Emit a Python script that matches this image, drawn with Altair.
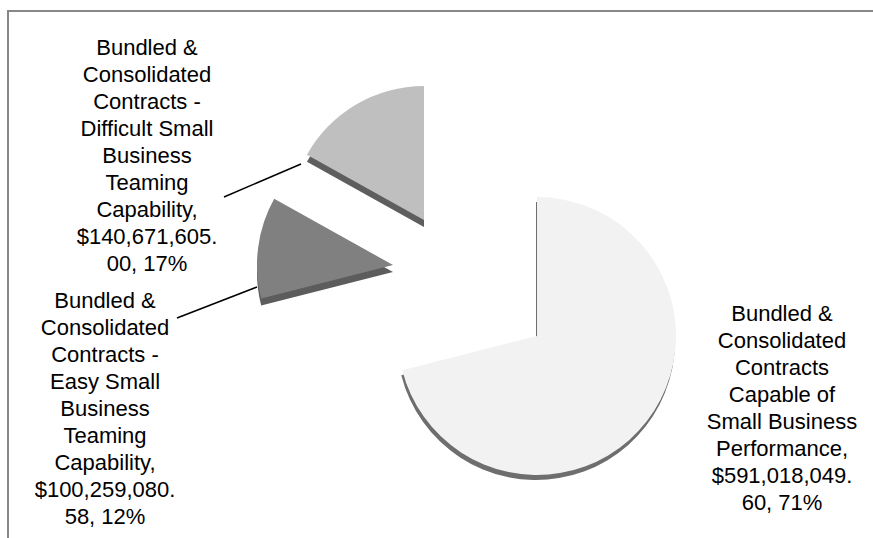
import altair as alt
import pandas as pd

# ---- data ----
categories = [
    "Bundled & Consolidated Contracts Capable of Small Business Performance",
    "Bundled & Consolidated Contracts - Easy Small Business Teaming Capability",
    "Bundled & Consolidated Contracts - Difficult Small Business Teaming Capability",
]
values = [591018049.60, 100259080.58, 140671605.00]
percents = ["71%", "12%", "17%"]
label_lines = [
    ["Bundled &", "Consolidated", "Contracts", "Capable of", "Small Business",
     "Performance,", "$591,018,049.", "60, 71%"],
    ["Bundled &", "Consolidated", "Contracts -", "Easy Small", "Business",
     "Teaming", "Capability,", "$100,259,080.", "58, 12%"],
    ["Bundled &", "Consolidated", "Contracts -", "Difficult Small", "Business",
     "Teaming", "Capability,", "$140,671,605.", "00, 17%"],
]

# ---- styles / layout ----
face_colors = ["#f2f2f2", "#808080", "#bfbfbf"]
edge_colors = ["#6e6e6e", "#5c5c5c", "#5e5e5e"]
centers = [(537, 336), (393, 265), (424, 220)]   # exploded slice centres
radii = [139, 136, 134]
depth = [(-1, 5), (0, 7), (0, 7)]
label_pos = [(782, 321), (105, 308), (147, 55)]
leaders = [None, (177, 318), (224, 197)]
leader_ends = [None, (257, 287), (301, 164)]
FONT = "Liberation Sans"
FS = 22
LH = 27

df = pd.DataFrame({
    "category": categories,
    "value": values,
    "order": [0, 1, 2],
    "label": ["\n".join(l) for l in label_lines],
})

base = (
    alt.Chart(df)
    .transform_joinaggregate(total="sum(value)")
    .transform_window(cum="sum(value)", sort=[alt.SortField("order")])
    .transform_calculate(
        a0="(datum.cum - datum.value) / datum.total * 2 * PI",
        a1="datum.cum / datum.total * 2 * PI",
    )
)

layers = []
border = alt.Chart(pd.DataFrame({"k": [0]})).mark_rect(
    filled=False, stroke="#878787", strokeWidth=2
).encode(x=alt.value(8), y=alt.value(11), x2=alt.value(900), y2=alt.value(580))
layers.append(border)

for i in range(3):
    cx, cy = centers[i]
    dx, dy = depth[i]
    sub = base.transform_filter(alt.datum.order == i)
    enc = dict(
        theta=alt.Theta("a0:Q", scale=None),
        theta2=alt.Theta2("a1:Q"),
        radius=alt.value(radii[i]),
    )
    layers.append(
        sub.mark_arc(color=edge_colors[i]).encode(
            x=alt.value(cx + dx), y=alt.value(cy + dy), **enc
        )
    )
    layers.append(
        sub.mark_arc(color=face_colors[i]).encode(
            x=alt.value(cx), y=alt.value(cy), **enc
        )
    )

for i in range(3):
    if leaders[i] is not None:
        x1, y1 = leaders[i]
        x2, y2 = leader_ends[i]
        layers.append(
            alt.Chart(df).transform_filter(alt.datum.order == i)
            .mark_rule(color="black", strokeWidth=1.5)
            .encode(x=alt.value(x1), y=alt.value(y1), x2=alt.value(x2), y2=alt.value(y2))
        )

for i in range(3):
    lx, ly = label_pos[i]
    layers.append(
        alt.Chart(df).transform_filter(alt.datum.order == i)
        .mark_text(font=FONT, fontSize=FS, lineHeight=LH, align="center",
                   baseline="alphabetic", lineBreak="\n", color="#000000")
        .encode(text="label:N", x=alt.value(lx), y=alt.value(ly))
    )

chart = (
    alt.layer(*layers)
    .properties(width=873, height=538, padding=0, autosize="none", background="white")
    .configure_view(stroke=None)
)

chart.save("out.html", embed_options={"renderer": "svg", "actions": False})
